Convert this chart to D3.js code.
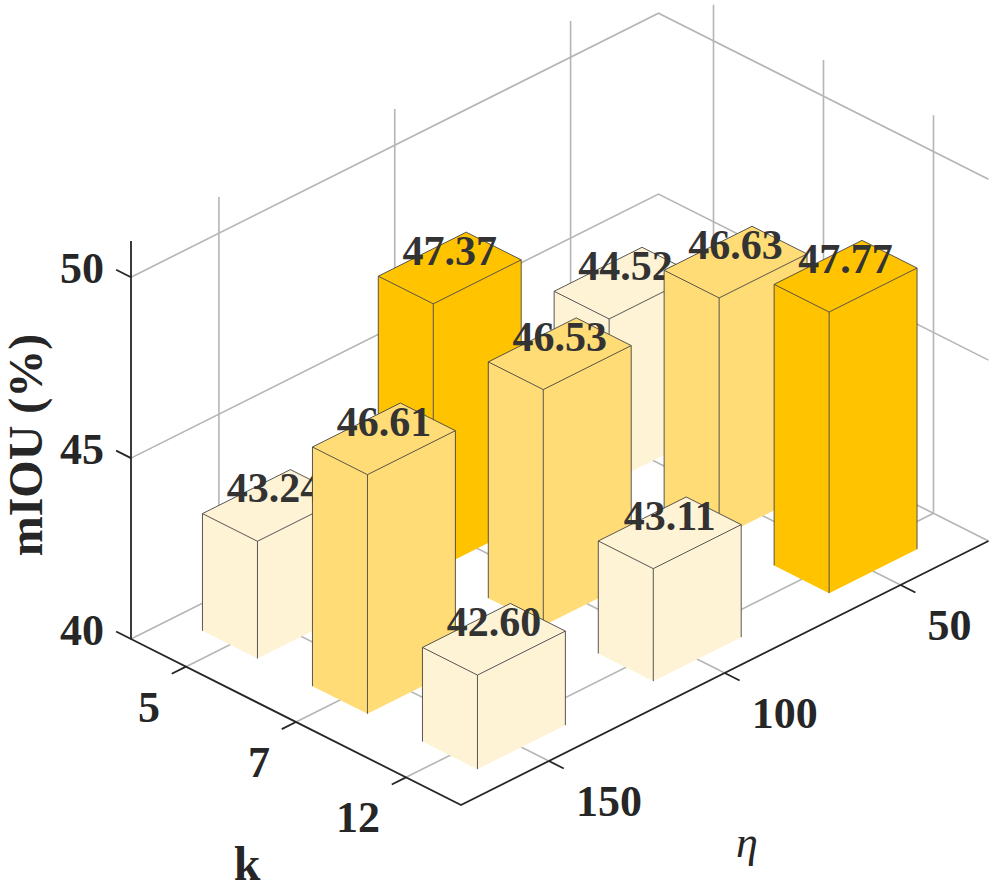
<!DOCTYPE html>
<html><head><meta charset="utf-8">
<script src="https://cdn.jsdelivr.net/npm/d3@7"></script>
<style>html,body{margin:0;padding:0;background:#fff}svg{display:block}text{font-family:"Liberation Serif",serif}</style>
</head><body><svg id="c" width="996" height="884"></svg>
<script>
const kCats = ["5","7","12"];
const etaCats = ["150","100","50"];
const zTicks = [40,45,50];
const kValues = ["5","5","5","7","7","7","12","12","12"];
const etaValues = ["150","100","50","150","100","50","150","100","50"];
const miou = [43.24,47.37,44.52,46.61,46.53,46.63,42.60,43.11,47.77];
const shades = [[42,"#FFF3D6"],[46,"#FFDC75"],[47.2,"#FFC300"]];

const W=996,H=884;
const svg=d3.select("#c");
const O={x:131,y:639};
const kVec={x:330,y:166}, eVec={x:527.5,y:-264};
const kS=d3.scalePoint().domain(kCats).range([0,1]).padding(0.5);
const eS=d3.scalePoint().domain(etaCats).range([0,1]).padding(0.5);
const zS=d3.scaleLinear().domain([40,51]).range([0,-398]);
const P=(k,e,z)=>[O.x+k*kVec.x+e*eVec.x, O.y+k*kVec.y+e*eVec.y+zS(z)];
const line=pts=>"M"+pts.map(p=>p.join(",")).join("L");
const half=kS.step()/4;
const grid="#b5b5b5", axisC="#262626";
const gridG=svg.append("g").attr("fill","none").attr("stroke",grid).attr("stroke-width",1.6);
const addGrid=pts=>gridG.append("path").attr("d",line(pts));
// floor
kCats.forEach(c=>addGrid([P(kS(c),0,40),P(kS(c),1,40)]));
etaCats.forEach(c=>addGrid([P(0,eS(c),40),P(1,eS(c),40)]));
addGrid([P(0,0,40),P(0,1,40),P(1,1,40)]);
// walls
etaCats.forEach(c=>addGrid([P(0,eS(c),40),P(0,eS(c),51)]));
kCats.forEach(c=>addGrid([P(kS(c),1,40),P(kS(c),1,51)]));
zTicks.filter(z=>z>40).forEach(z=>addGrid([P(0,0,z),P(0,1,z),P(1,1,z)]));

// axes
const ax=svg.append("g").attr("fill","none").attr("stroke",axisC).attr("stroke-width",1.8);
ax.append("path").attr("d",line([P(0,0,51),P(0,0,40),P(1,0,40),P(1,1,40)]));
const tickLenE=0.027, tickLenK=0.045;
kCats.forEach(c=>ax.append("path").attr("d",line([P(kS(c),0,40),P(kS(c),-tickLenE,40)])));
etaCats.forEach(c=>ax.append("path").attr("d",line([P(1,eS(c),40),P(1+tickLenK,eS(c),40)])));
zTicks.forEach(z=>ax.append("path").attr("d",line([P(0,0,z),P(-tickLenK,0,z)])));

// bars, far to near
const rows=miou.map((v,i)=>({v,k:kValues[i],e:etaValues[i]}))
  .sort((a,b)=>(kS(a.k)-eS(a.e))-(kS(b.k)-eS(b.e)));
const color=v=>{let c=shades[0][1];shades.forEach(s=>{if(v>=s[0])c=s[1]});return c;};
const bars=svg.append("g");
rows.forEach(d=>{
  const k=kS(d.k),e=eS(d.e),f=color(d.v);
  const g=bars.append("g");
  const k0=k-half,k1=k+half,e0=e-half,e1=e+half;
  const faces=[
    [P(k1,e0,40),P(k1,e1,40),P(k1,e1,d.v),P(k1,e0,d.v)],
    [P(k0,e0,40),P(k1,e0,40),P(k1,e0,d.v),P(k0,e0,d.v)],
    [P(k0,e0,d.v),P(k1,e0,d.v),P(k1,e1,d.v),P(k0,e1,d.v)]
  ];
  // side faces: faces visible are k=k1 (left-front) and e=e0?? handled by geometry below
  const left=[P(k0,e0,40),P(k1,e0,40),P(k1,e0,d.v),P(k0,e0,d.v)];
  const right=[P(k1,e0,40),P(k1,e1,40),P(k1,e1,d.v),P(k1,e0,d.v)];
  const top=faces[2];
  [left,right,top].forEach((q,i)=>{
    g.append("path").attr("d",line(q)+"Z").attr("fill",f).attr("stroke","none");
  });
  const edges=g.append("g").attr("fill","none").attr("stroke","#444").attr("stroke-width",0.9);
  // MATLAB-like outline: verticals and top rim only, base left unstroked
  edges.append("path").attr("d",line([P(k0,e0,40),P(k0,e0,d.v),P(k0,e1,d.v),P(k1,e1,d.v),P(k1,e1,40)]));
  edges.append("path").attr("d",line([P(k0,e0,d.v),P(k1,e0,d.v),P(k1,e1,d.v)]));
  edges.append("path").attr("d",line([P(k1,e0,40),P(k1,e0,d.v)]));
  const c=P(k,e,d.v);
  g.append("text").attr("x",c[0]).attr("y",c[1]-3).attr("text-anchor","middle")
    .attr("font-size",42).attr("font-weight","bold").attr("fill","#333").text(d.v.toFixed(2));
});

// tick labels
const lab=svg.append("g").attr("fill",axisC).attr("font-weight","bold").attr("font-size",44);
kCats.forEach(c=>{const p=P(kS(c),0,40);lab.append("text").attr("x",p[0]-26).attr("y",p[1]+55).attr("text-anchor","end").text(c);});
etaCats.forEach(c=>{const p=P(1,eS(c),40);lab.append("text").attr("x",p[0]+27).attr("y",p[1]+55).text(c);});
zTicks.forEach(z=>{const p=P(0,0,z);lab.append("text").attr("x",p[0]-27).attr("y",p[1]+6).attr("text-anchor","end").text(z);});
// titles
lab.append("text").attr("x",247).attr("y",880).attr("text-anchor","middle").attr("font-size",48).text("k");
svg.append("text").attr("x",747).attr("y",857).attr("text-anchor","middle").attr("font-size",44).attr("font-style","italic").attr("fill",axisC).text("η");
lab.append("text").attr("transform","translate(42,445) rotate(-90)").attr("text-anchor","middle").attr("font-size",48).text("mIOU (%)");
</script></body></html>
